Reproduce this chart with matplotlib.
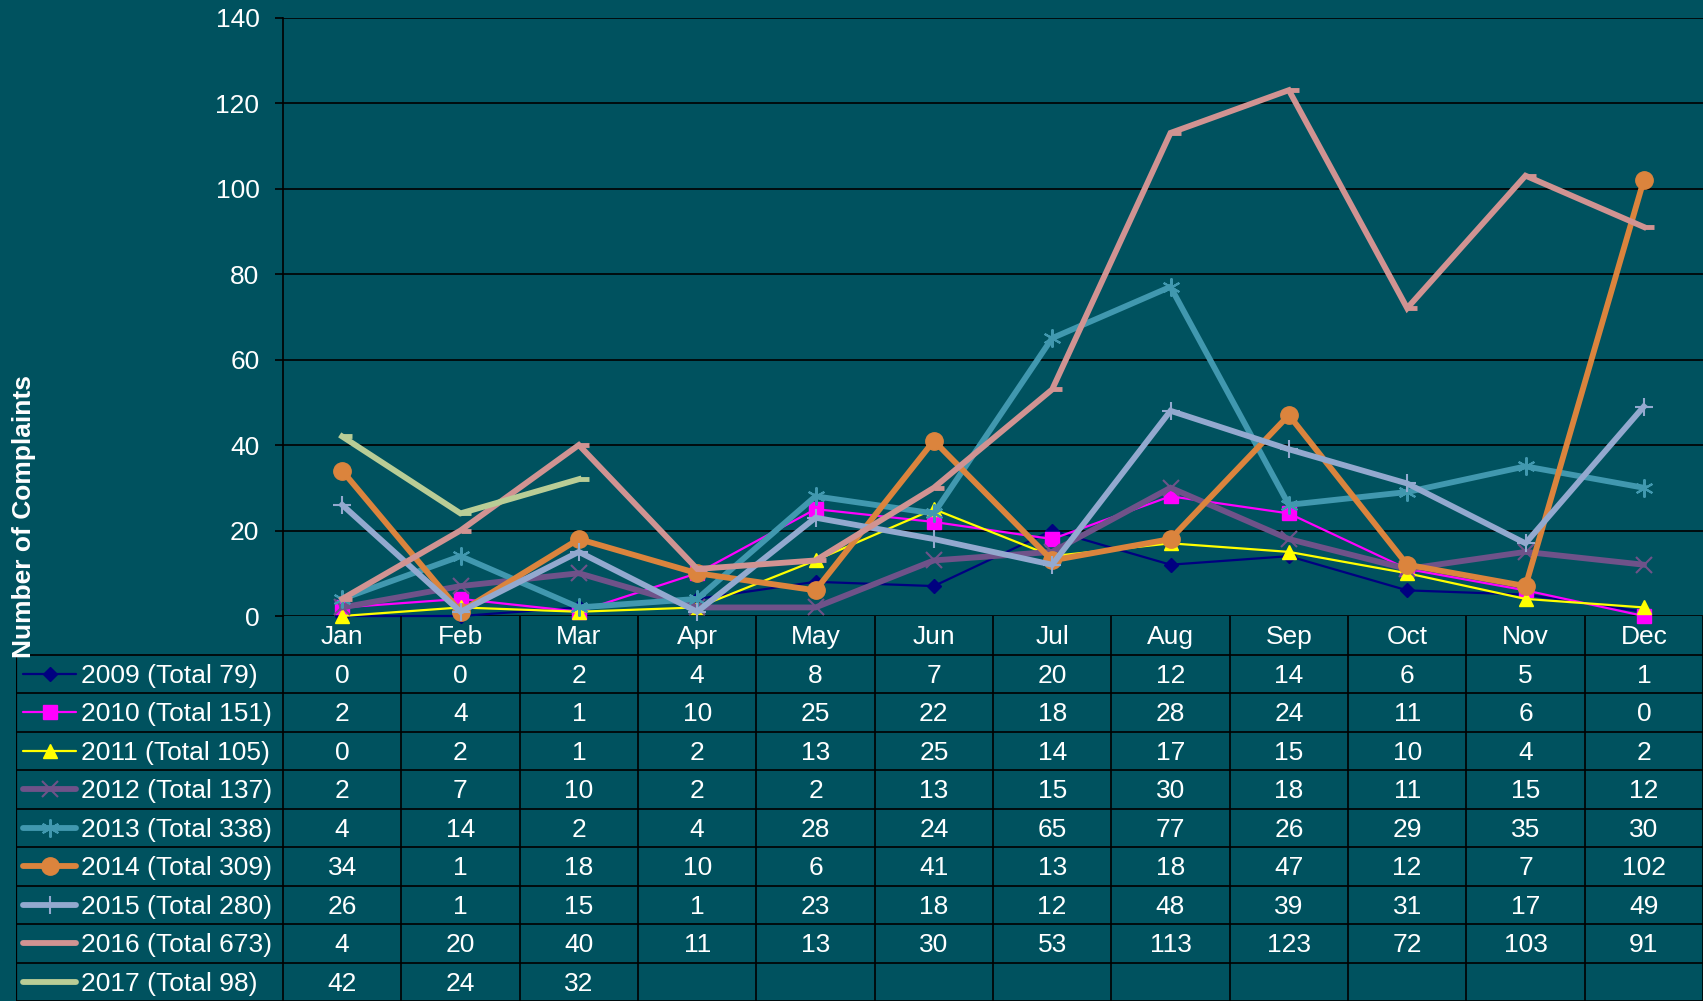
import matplotlib
matplotlib.use("Agg")
import matplotlib.pyplot as plt
from matplotlib.path import Path

plt.rcParams['font.family'] = ['Liberation Sans', 'DejaVu Sans']

months = ["Jan", "Feb", "Mar", "Apr", "May", "Jun", "Jul", "Aug", "Sep", "Oct", "Nov", "Dec"]
labels = ["2009 (Total 79)", "2010 (Total 151)", "2011 (Total 105)", "2012 (Total 137)",
          "2013 (Total 338)", "2014 (Total 309)", "2015 (Total 280)", "2016 (Total 673)",
          "2017 (Total 98)"]
y2009 = [0, 0, 2, 4, 8, 7, 20, 12, 14, 6, 5, 1]
y2010 = [2, 4, 1, 10, 25, 22, 18, 28, 24, 11, 6, 0]
y2011 = [0, 2, 1, 2, 13, 25, 14, 17, 15, 10, 4, 2]
y2012 = [2, 7, 10, 2, 2, 13, 15, 30, 18, 11, 15, 12]
y2013 = [4, 14, 2, 4, 28, 24, 65, 77, 26, 29, 35, 30]
y2014 = [34, 1, 18, 10, 6, 41, 13, 18, 47, 12, 7, 102]
y2015 = [26, 1, 15, 1, 23, 18, 12, 48, 39, 31, 17, 49]
y2016 = [4, 20, 40, 11, 13, 30, 53, 113, 123, 72, 103, 91]
y2017 = [42, 24, 32]
series = [y2009, y2010, y2011, y2012, y2013, y2014, y2015, y2016, y2017]

bg = '#00525F'
dash = Path([(0, 0), (1, 0)], [Path.MOVETO, Path.LINETO])
# color, linewidth, marker, markersize, marker edge width
styles = [
    ('#000080', 1.6, 'D', 7, 1.0),
    ('#FF00FF', 1.6, 's', 9.5, 1.0),
    ('#FFFF00', 1.6, '^', 10.5, 1.0),
    ('#6F5289', 4.2, 'x', 11, 1.5),
    ('#4198AF', 4.2, (6, 2, 0), 13, 1.5),
    ('#DB843D', 4.2, 'o', 12.5, 1.0),
    ('#93A9CF', 4.2, '+', 13, 1.5),
    ('#D19392', 4.2, dash, 15, 3.5),
    ('#B9CD96', 4.2, dash, 15, 3.5),
]

W, H = 1703, 1001
fig = plt.figure(figsize=(W / 100, H / 100), dpi=100)
fig.patch.set_facecolor(bg)

# chart area
ax = fig.add_axes([283 / W, 1 - 616 / H, 1 - 283 / W, (616 - 17.5) / H])
ax.set_facecolor(bg)
x = list(range(12))
for vals, (c, lw, m, ms, mew) in zip(series, styles):
    ax.plot(x[:len(vals)], vals, color=c, lw=lw, marker=m, ms=ms, mew=mew,
            mec=c, mfc=c, solid_joinstyle='miter', clip_on=False)
ax.set_xlim(-0.5, 11.5)
ax.set_ylim(0, 140)
ax.set_yticks(range(0, 141, 20))
ax.set_xticks([])
ax.yaxis.grid(True, color='black', lw=1.2)
ax.set_axisbelow(True)
for s in ['top', 'right', 'bottom']:
    ax.spines[s].set_visible(False)
ax.spines['left'].set_color('black')
ax.spines['left'].set_linewidth(1.2)
ax.tick_params(axis='y', colors='black', labelcolor='white', labelsize=19,
               length=6, width=1.2, pad=11)

fig.text(24 / W, 1 - 516 / H, "Number of Complaints", rotation=90, ha='center',
         va='center', color='white', fontsize=19, fontweight='bold')

# data table under the chart
colw = (W - 283) / 12
x0 = -0.5 - (283 - 16) / colw
tx = fig.add_axes([16 / W, 0, 1 - 16 / W, 385 / H])
tx.set_xlim(x0, 11.5)
tx.set_ylim(10, 0)
tx.axis('off')
tx.set_facecolor(bg)


def px(p):
    return x0 + (p - 16) / colw


for k in range(13):
    tx.plot([k - 0.5, k - 0.5], [0, 10], color='black', lw=1.2)
tx.plot([x0, x0], [1, 10], color='black', lw=1.6)
for r in range(1, 11):
    tx.plot([x0, 11.5], [r, r], color='black', lw=1.2)

for i, mth in enumerate(months):
    tx.text(i, 0.55, mth, ha='center', va='center', color='white', fontsize=19)

for r, (lab, vals, (c, lw, m, ms, mew)) in enumerate(zip(labels, series, styles), start=1):
    yy = r + 0.5
    tx.plot([px(23), px(76)], [yy, yy], color=c, lw=lw, solid_capstyle='round')
    if not isinstance(m, Path):
        tx.plot([px(50)], [yy], marker=m, ms=ms, mew=mew, color=c, mec=c, mfc=c)
    tx.text(px(81), yy + 0.05, lab, ha='left', va='center', color='white', fontsize=19)
    for i, v in enumerate(vals):
        tx.text(i, yy + 0.05, str(v), ha='center', va='center', color='white', fontsize=19)

fig.savefig('out.png', dpi=100, facecolor=bg)
